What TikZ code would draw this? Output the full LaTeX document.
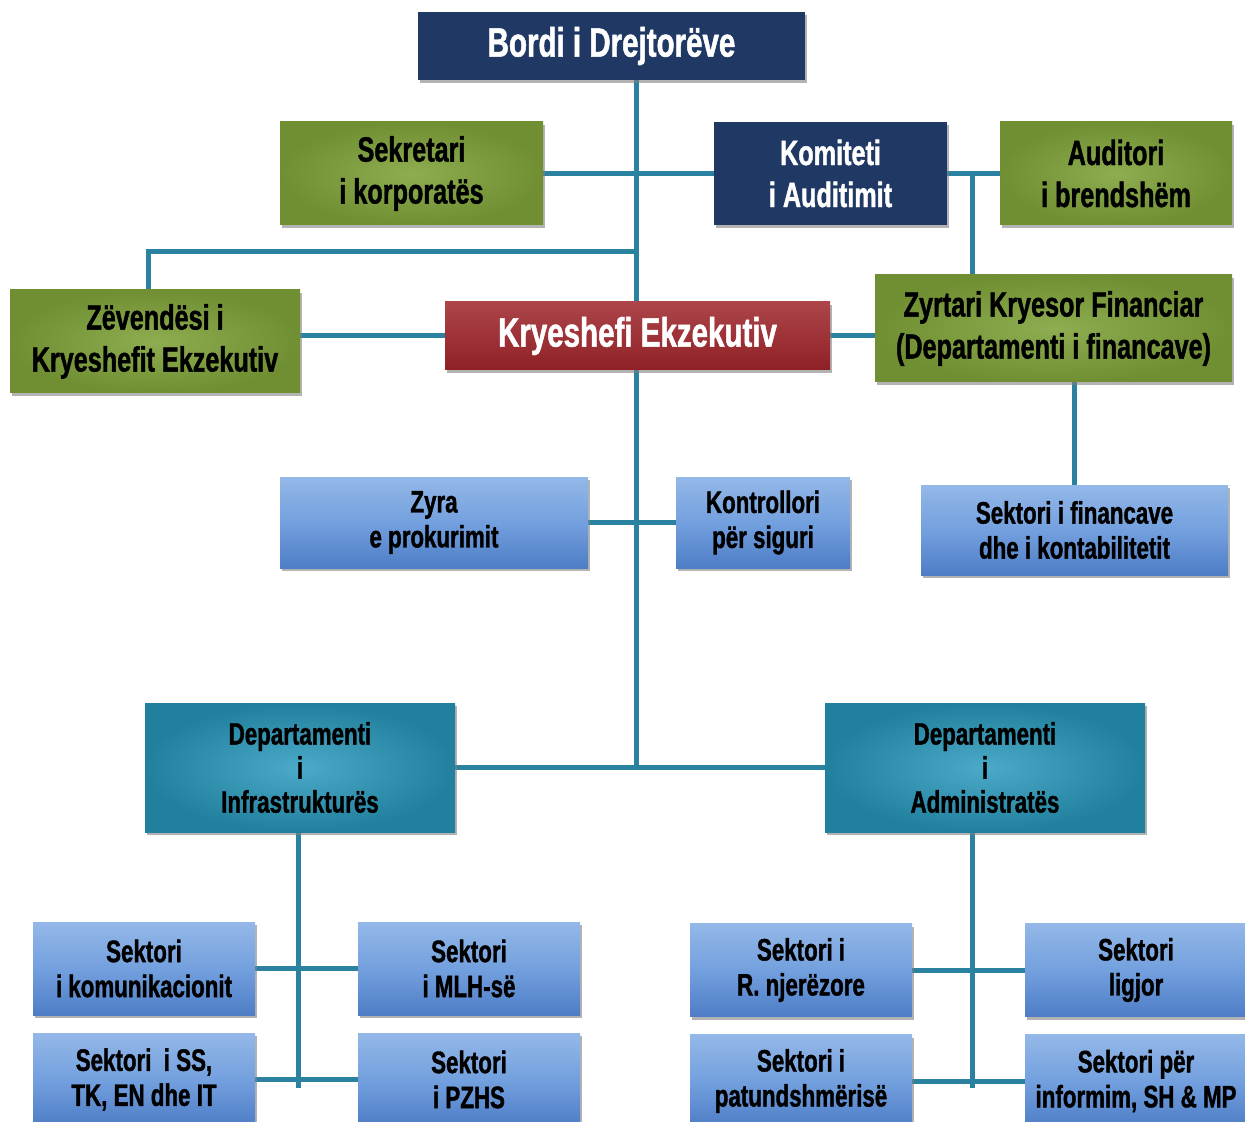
\documentclass[tikz,border=0pt]{standalone}
\usepackage{fontspec}
\newfontfamily\orgfont{Liberation Sans}[FakeStretch=0.72,BoldFeatures={FakeBold=1.2}]
\usetikzlibrary{shadows,backgrounds}
\definecolor{navyfill}{RGB}{31,56,100}
\definecolor{redfill}{RGB}{158,36,42}
\definecolor{greendark}{RGB}{112,142,50}
\definecolor{greenlight}{RGB}{142,172,80}
\definecolor{bluetop}{RGB}{148,184,232}
\definecolor{bluemid}{RGB}{115,160,222}
\definecolor{bluebot}{RGB}{78,125,198}
\definecolor{tealdark}{RGB}{32,128,158}
\definecolor{teallight}{RGB}{75,170,200}
\definecolor{linkcol}{RGB}{42,130,160}
\begin{document}
\begin{tikzpicture}[x=0.5pt,y=-0.5pt,
	box/.style={rectangle,inner sep=0pt,align=center,
		drop shadow={shadow xshift=1.2pt,shadow yshift=-1.5pt,opacity=0.6}},
	boardbox/.style={box,fill=navyfill,text=white,font=\orgfont\bfseries\fontsize{20.5}{24}\selectfont},
	auditbox/.style={box,fill=navyfill,text=white,font=\orgfont\bfseries\fontsize{17.5}{21}\selectfont},
	chiefbox/.style={box,top color=redfill!85!white,bottom color=redfill!90!black,text=white,font=\orgfont\bfseries\fontsize{20.5}{24}\selectfont},
	greenbox/.style={box,inner color=greenlight,outer color=greendark,font=\orgfont\bfseries\fontsize{17.5}{21}\selectfont},
	bluebox/.style={box,top color=bluetop,bottom color=bluebot,middle color=bluemid,font=\orgfont\bfseries\fontsize{15.5}{17.5}\selectfont},
	deptbox/.style={box,inner color=teallight,outer color=tealdark,font=\orgfont\bfseries\fontsize{15.5}{17}\selectfont},
	link/.style={draw=linkcol,line width=2.5pt}]
	\useasboundingbox (0,0) rectangle (1245,1122);
	% top of the chart
	\node[boardbox,minimum width=193.5pt,minimum height=34pt] (bordi) at (611.5,46) {Bordi i Drejtorëve};
	\node[greenbox,minimum width=131.5pt,minimum height=51.5pt] (sekr) at (411.5,173.5) {Sekretari\\i korporatës};
	\node[auditbox,minimum width=116.5pt,minimum height=51.5pt] (komit) at (830.5,173.5) {Komiteti\\i Auditimit};
	\node[greenbox,minimum width=116pt,minimum height=51.5pt] (audit) at (1116,173.5) {Auditori\\i brendshëm};
	\node[greenbox,minimum width=145pt,minimum height=51.5pt] (zev) at (155,341.5) {Zëvendësi i\\Kryeshefit Ekzekutiv};
	\node[chiefbox,minimum width=192.5pt,minimum height=34pt] (krye) at (637.5,336) {Kryeshefi Ekzekutiv};
	\node[greenbox,minimum width=178.5pt,minimum height=53.5pt] (zyrt) at (1053.5,328.5) {Zyrtari Kryesor Financiar\\(Departamenti i financave)};
	% offices
	\node[bluebox,minimum width=154pt,minimum height=45.5pt] (zyra) at (434,522.5) {Zyra\\e prokurimit};
	\node[bluebox,minimum width=87pt,minimum height=45.5pt] (kontr) at (763,522.5) {Kontrollori\\për siguri};
	\node[bluebox,minimum width=153.5pt,minimum height=45pt] (finsek) at (1074.5,530) {Sektori i financave\\dhe i kontabilitetit};
	% departments
	\node[deptbox,minimum width=155pt,minimum height=64.5pt] (infra) at (300,767.5) {Departamenti\\i\\Infrastrukturës};
	\node[deptbox,minimum width=160pt,minimum height=64.5pt] (admin) at (985,767.5) {Departamenti\\i\\Administratës};
	% sectors
	\node[bluebox,minimum width=111pt,minimum height=46.5pt] (komun) at (144,968.5) {Sektori\\i komunikacionit};
	\node[bluebox,minimum width=111pt,minimum height=46.5pt] (mlh) at (469,968.5) {Sektori\\i MLH-së};
	\node[bluebox,minimum width=111pt,minimum height=46.5pt] (sstk) at (144,1079.5) {Sektori~~i SS,\\TK, EN dhe IT};
	\node[bluebox,minimum width=111pt,minimum height=46.5pt] (pzhs) at (469,1079.5) {Sektori\\i PZHS};
	\node[bluebox,minimum width=111pt,minimum height=46.5pt] (rnjer) at (801,970) {Sektori i\\R. njerëzore};
	\node[bluebox,minimum width=111pt,minimum height=46.5pt] (ligj) at (1136,970) {Sektori\\ligjor};
	\node[bluebox,minimum width=111pt,minimum height=46.5pt] (patund) at (801,1081) {Sektori i\\patundshmërisë};
	\node[bluebox,minimum width=111pt,minimum height=46.5pt] (inform) at (1136,1081) {Sektori për\\informim, SH \& MP};
	\coordinate (hub) at (636,768);
	\coordinate (zj) at (148,252);
	\coordinate (aj) at (972,175);
	\coordinate (iend) at (298,1088);
	\coordinate (aend) at (972,1088);
	\begin{pgfonlayer}{background}
		\draw[link] (bordi.south -| hub) -- (hub);
		\draw[link] (sekr.east) -- (komit.west);
		\draw[link] (komit.east) -- (audit.west);
		\draw[link] (aj) -- (aj |- zyrt.north);
		\draw[link] (hub |- zj) -- (zj) -- (zj |- zev.north);
		\draw[link] (krye.west) -- (krye.west -| zev.east);
		\draw[link] (krye.east) -- (krye.east -| zyrt.west);
		\draw[link] (finsek.north) -- (finsek.north |- zyrt.south);
		\draw[link] (zyra.east) -- (kontr.west);
		\draw[link] (infra.east) -- (admin.west);
		\draw[link] (iend |- infra.south) -- (iend);
		\draw[link] (komun.east) -- (mlh.west);
		\draw[link] (sstk.east) -- (pzhs.west);
		\draw[link] (aend |- admin.south) -- (aend);
		\draw[link] (rnjer.east) -- (ligj.west);
		\draw[link] (patund.east) -- (inform.west);
	\end{pgfonlayer}
\end{tikzpicture}
\end{document}
